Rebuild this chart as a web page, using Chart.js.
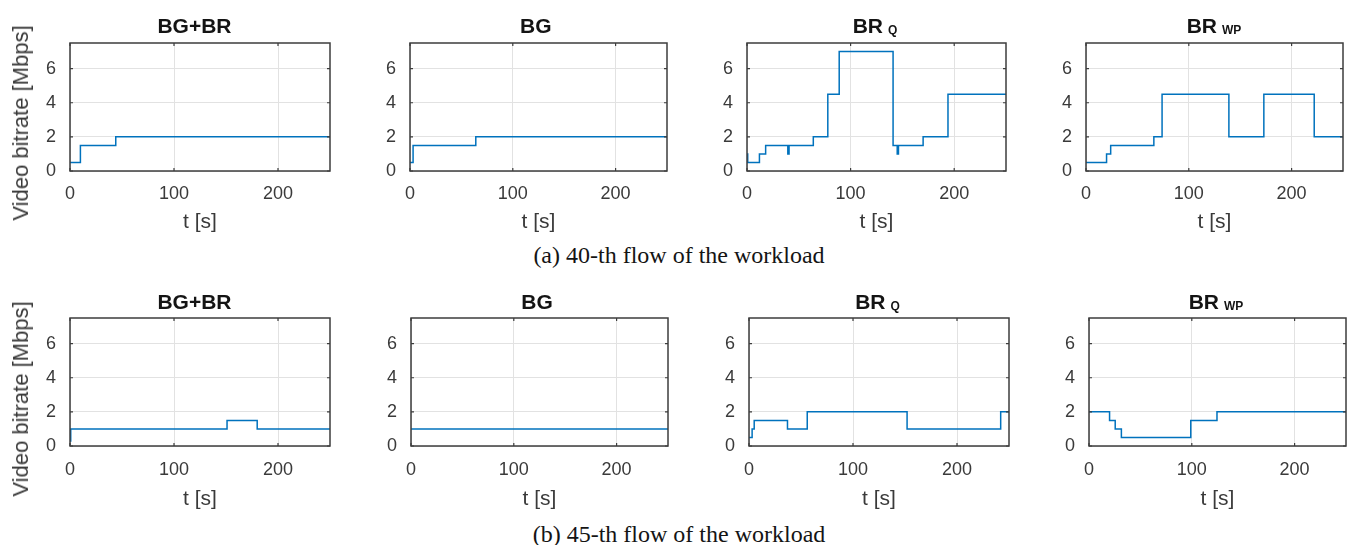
<!DOCTYPE html>
<html><head><meta charset="utf-8">
<script src="https://cdn.jsdelivr.net/npm/chart.js@4"></script>
<style>
html,body{margin:0;padding:0;background:#fff;}
body{width:1347px;height:545px;position:relative;overflow:hidden;font-family:"Liberation Sans",Arial,sans-serif;}
canvas{position:absolute;}
.ttl{position:absolute;font-weight:bold;font-size:21px;line-height:21px;color:#141414;white-space:nowrap;transform:translateX(-50%);}
.sub{font-size:12px;margin-left:5px;position:relative;top:1px;}
.ylab{position:absolute;font-size:22px;line-height:22px;color:#3a3a3a;white-space:nowrap;transform:translate(-50%,-50%) rotate(-90deg);}
.cap{position:absolute;font-family:"Liberation Serif","Times New Roman",serif;font-size:24px;line-height:24px;color:#141414;white-space:nowrap;transform:translateX(-50%);}
</style></head><body>
<script>
// ---------- DATA ----------
const xTickValues = [0, 100, 200];
const yTickValues = [0, 2, 4, 6];
const xRange = [0, 250];
const yRange = [0, 7.5];
const xAxisLabel = 't [s]';
const yAxisLabel = 'Video bitrate [Mbps]';
const captions = ['(a) 40-th flow of the workload', '(b) 45-th flow of the workload'];
const panelTitles = [['BG+BR', ''], ['BG', ''], ['BR', 'Q'], ['BR', 'WP']];

// flow 40 (row a): time of change [s] and new bitrate [Mbps]
const tA_BGBR = [0, 10, 44, 250];
const vA_BGBR = [0.5, 1.5, 2, 2];
const tA_BG = [0, 3, 64, 250];
const vA_BG = [0.5, 1.5, 2, 2];
const tA_BRQ = [0, 0.7, 12, 18, 39.4, 40.6, 64, 78, 89, 141, 145, 146.2, 170, 194, 250];
const vA_BRQ = [1, 0.5, 1, 1.5, 1, 1.5, 2, 4.5, 7, 1.5, 1, 1.5, 2, 4.5, 4.5];
const tA_BRWP = [0, 20, 24, 66, 74, 139, 173, 222, 250];
const vA_BRWP = [0.5, 1, 1.5, 2, 4.5, 2, 4.5, 2, 2];

// flow 45 (row b)
const tB_BGBR = [0, 0.7, 151, 180, 250];
const vB_BGBR = [0.3, 1, 1.5, 1, 1];
const tB_BG = [0, 250];
const vB_BG = [1, 1];
const tB_BRQ = [0, 3, 5, 37, 56, 152, 242, 250];
const vB_BRQ = [0.5, 1, 1.5, 1, 2, 1, 2, 2];
const tB_BRWP = [0, 20, 25.5, 31.5, 99, 124.5, 250];
const vB_BRWP = [2, 1.5, 1, 0.5, 1.5, 2, 2];

// ---------- LAYOUT ----------
const rows = [
  {top: 43, h: 128, tickPad: 12.4, titleMid: 222.5, titleBase: 32.7, capBase: 263.3, ylabY: 122.5,
   cols: [[70, 260], [410, 257], [747, 259], [1086, 257]],
   titleX: [194.5, 535.8, 875, 1214],
   series: [[tA_BGBR, vA_BGBR], [tA_BG, vA_BG], [tA_BRQ, vA_BRQ], [tA_BRWP, vA_BRWP]]},
  {top: 318, h: 128, tickPad: 13.7, titleMid: 499.5, titleBase: 309, capBase: 541.7, ylabY: 399,
   cols: [[70, 260], [411, 257], [749, 260], [1089, 257]],
   titleX: [194.5, 537, 877.5, 1216],
   series: [[tB_BGBR, vB_BGBR], [tB_BG, vB_BG], [tB_BRQ, vB_BRQ], [tB_BRWP, vB_BRWP]]}
];

const LINE_COLOR = '#0072BD';
const TEXT_COLOR = '#3a3a3a';
const GRID_COLOR = '#e2e2e2';
const FRAME_COLOR = '#3d3d3d';

const framePlugin = {
  id: 'frame',
  afterDraw(chart) {
    const {ctx, chartArea: a, scales: {x, y}} = chart;
    ctx.save();
    ctx.strokeStyle = FRAME_COLOR;
    ctx.lineWidth = 1.5;
    ctx.strokeRect(a.left, a.top, a.right - a.left, a.bottom - a.top);
    ctx.lineWidth = 1.2;
    ctx.beginPath();
    xTickValues.forEach(v => {
      const px = x.getPixelForValue(v);
      ctx.moveTo(px, a.bottom); ctx.lineTo(px, a.bottom - 3);
      ctx.moveTo(px, a.top); ctx.lineTo(px, a.top + 3);
    });
    yTickValues.forEach(v => {
      const py = y.getPixelForValue(v);
      ctx.moveTo(a.left, py); ctx.lineTo(a.left + 3, py);
      ctx.moveTo(a.right, py); ctx.lineTo(a.right - 3, py);
    });
    ctx.stroke();
    ctx.restore();
  }
};

function addDiv(cls, html, left, top) {
  const d = document.createElement('div');
  d.className = cls;
  d.innerHTML = html;
  d.style.left = left + 'px';
  d.style.top = top + 'px';
  document.body.appendChild(d);
  return d;
}

function zeroPad(s) {
  s.paddingTop = 0; s.paddingBottom = 0; s.paddingLeft = 0; s.paddingRight = 0;
}

rows.forEach((row, ri) => {
  row.cols.forEach((col, ci) => {
    const [px, pw] = col;
    const W = pw + 74, H = row.h + 80;
    const cTop = row.top - 10;
    const c = document.createElement('canvas');
    c.width = W; c.height = H;
    c.style.left = (px - 70) + 'px';
    c.style.top = cTop + 'px';
    c.style.width = W + 'px';
    c.style.height = H + 'px';
    document.body.appendChild(c);

    const [ts, vs] = row.series[ci];
    const xTitleSize = 21;
    const xTitlePad = (cTop + H) - row.titleMid - xTitleSize * 1.2 / 2;

    new Chart(c, {
      type: 'line',
      data: {
        datasets: [{
          data: ts.map((t, i) => ({x: t, y: vs[i]})),
          stepped: true,
          borderColor: LINE_COLOR,
          borderWidth: 1.5,
          pointRadius: 0,
          fill: false,
          tension: 0
        }]
      },
      options: {
        responsive: false,
        animation: false,
        devicePixelRatio: 1,
        layout: {padding: {left: 0, top: 10, right: 4, bottom: 0}},
        plugins: {legend: {display: false}, tooltip: {enabled: false}, title: {display: false}},
        scales: {
          x: {
            type: 'linear', min: xRange[0], max: xRange[1],
            afterBuildTicks: s => { s.ticks = xTickValues.map(v => ({value: v})); },
            afterFit: s => { s.height = 70; zeroPad(s); },
            grid: {color: GRID_COLOR, lineWidth: 1, drawTicks: false},
            border: {display: false},
            ticks: {font: {family: 'Liberation Sans', size: 18}, color: TEXT_COLOR, padding: row.tickPad, maxRotation: 0, autoSkip: false},
            title: {display: true, text: xAxisLabel, color: TEXT_COLOR,
                    font: {family: 'Liberation Sans', size: xTitleSize}, padding: {top: 0, bottom: xTitlePad}}
          },
          y: {
            type: 'linear', min: yRange[0], max: yRange[1],
            afterBuildTicks: s => { s.ticks = yTickValues.map(v => ({value: v})); },
            afterFit: s => { s.width = 70; zeroPad(s); },
            grid: {color: GRID_COLOR, lineWidth: 1, drawTicks: false},
            border: {display: false},
            ticks: {font: {family: 'Liberation Sans', size: 18}, color: TEXT_COLOR, padding: 14, autoSkip: false}
          }
        }
      },
      plugins: [framePlugin]
    });

    const [main, sub] = panelTitles[ci];
    const html = sub ? main + '<span class="sub">' + sub + '</span>' : main;
    addDiv('ttl', html, row.titleX[ci], row.titleBase - 17.8);
  });
  addDiv('ylab', yAxisLabel, 21, row.ylabY);
  addDiv('cap', captions[ri], 679, row.capBase - 20.1);
});
</script>
</body></html>
